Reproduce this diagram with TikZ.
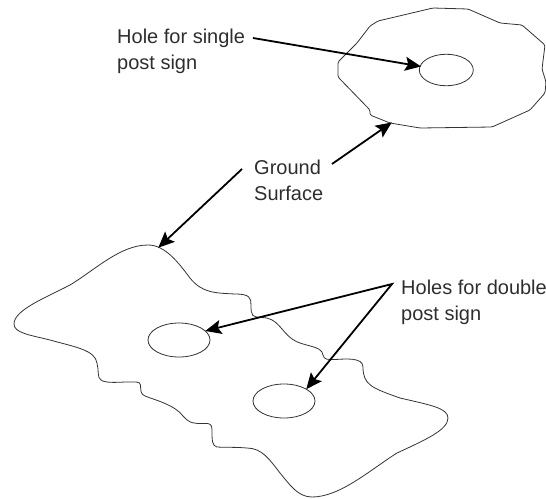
\documentclass[tikz,border=0pt]{standalone}
\usepackage{fontspec}
\setmainfont{Liberation Sans}
\usetikzlibrary{arrows.meta,shapes.geometric}
\tikzset{
  label text/.style={anchor=base west,inner sep=0pt,align=left,text=black!82,font=\fontsize{20}{26}\selectfont},
  outline/.style={draw=black!80,line width=0.8pt},
  hole/.style={shape=ellipse,draw=black!80,line width=0.8pt,inner sep=0pt,outer sep=0pt},
  headtip/.style={arrows={-{Stealth[length=16pt,width=14pt,inset=3pt]}}},
  pointer/.style={draw=black,line width=1.8pt,headtip,shorten >=-1pt},
  twinpointer/.style={draw=black,line width=1.8pt,line join=miter,miter limit=20,arrows={{Stealth[length=16pt,width=14pt,inset=3pt]}-{Stealth[length=16pt,width=14pt,inset=3pt]}}}
}
\begin{document}
\begin{tikzpicture}[x=1pt,y=-1pt]
\useasboundingbox (0,0) rectangle (546,498);
% top ground surface
\draw[outline,rounded corners=1.5pt] (433,8) -- (468,9) -- (500,23) -- (522,25) -- (545,45) -- (542,69) -- (546,82) -- (545,93) -- (530,110) -- (492,127) -- (420,128) -- (390,123) -- (370,115) -- (370,110) -- (338,77) -- (338,62) -- (357,43) -- (370,26) -- (378,21) -- cycle;
% bottom ground surface
\draw[outline] (148,245)
 .. controls (165,245) and (178,262) .. (190,278)
 .. controls (202,293) and (215,293) .. (235,294)
 .. controls (250,294) and (251,298) .. (251,305)
 .. controls (251,316) and (252,317) .. (262,317.5)
 .. controls (278,318) and (280,330) .. (292,339)
 .. controls (303,347) and (322,345) .. (323,355)
 .. controls (324,360) and (328,359.5) .. (335,359.5)
 .. controls (345,359) and (363,357) .. (363,367)
 .. controls (363,385) and (372,388) .. (400,398)
 .. controls (430,405) and (448,408) .. (448,418)
 .. controls (448,430) and (425,440) .. (397,453)
 .. controls (370,470) and (340,497) .. (312,497)
 .. controls (298,497) and (290,485) .. (280,473)
 .. controls (270,460) and (262,448) .. (247,448)
 .. controls (235,447) and (225,447.5) .. (217,447)
 .. controls (212,446) and (212,440) .. (212,430)
 .. controls (212,424) and (210,423) .. (203,423.5)
 .. controls (195,423.5) and (190,424) .. (183,416)
 .. controls (175,405) and (155,400) .. (145,396)
 .. controls (140,394) and (141,390) .. (140.5,385)
 .. controls (140,381) and (135,382) .. (125,382)
 .. controls (115,382.5) and (105,383) .. (101,380)
 .. controls (97,378) and (99,370) .. (97,363)
 .. controls (95,350) and (75,347) .. (50,340)
 .. controls (30,335) and (14,333) .. (14,324)
 .. controls (14,310) and (45,298) .. (70,285)
 .. controls (95,270) and (120,245) .. (148,245) -- cycle;
% holes
\node[hole,minimum width=54pt,minimum height=31.5pt] (single) at (446.3,70) {};
\node[hole,minimum width=62pt,minimum height=34pt] (doubleA) at (179,340) {};
\node[hole,minimum width=62pt,minimum height=34pt] (doubleB) at (284,401) {};
% labels
\node[label text] (lblsingle) at (117,69) {Hole for single\\post sign};
\node[label text] (lblground) at (254,200) {Ground\\Surface};
\node[label text] (lbldouble) at (401,320) {Holes for double\\post sign};
% connector free ends
\coordinate (singlestart) at (253,38);
\coordinate (groundA) at (332,164);
\coordinate (groundB) at (242,169);
\coordinate (apex) at (392,284);
\coordinate (topedge) at (391,123);
\coordinate (bottomedge) at (159,247);
% connectors
\draw[pointer] (singlestart) -- (single.172);
\draw[pointer] (groundA) -- (topedge);
\draw[pointer] (groundB) -- (bottomedge);
\draw[twinpointer] (doubleA.19) -- (apex) -- (doubleB.28);
\end{tikzpicture}
\end{document}
